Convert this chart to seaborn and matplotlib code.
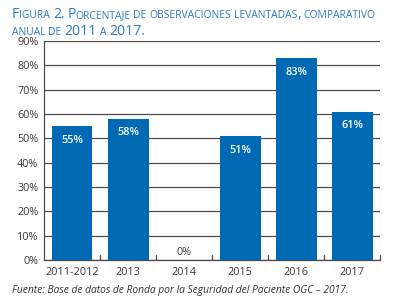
import numpy as np
import pandas as pd
import seaborn as sns
import matplotlib.pyplot as plt
from matplotlib.font_manager import FontProperties
from matplotlib.ticker import PercentFormatter

years = ["2011-2012", "2013", "2014", "2015", "2016", "2017"]
pct = [55, 58, 0, 51, 83, 61]
yticks = list(range(0, 91, 10))
title_lines = ["Figura 2. Porcentaje de observaciones levantadas, comparativo",
               "anual de 2011 a 2017."]
source = "Fuente: Base de datos de Ronda por la Seguridad del Paciente OGC – 2017."

df = pd.DataFrame({"year": years, "pct": pct})

sns.set_theme(style="white")
plt.rcParams["font.family"] = ["Open Sans", "DejaVu Sans"]

fig = plt.figure(figsize=(4.04, 3.07), dpi=100)
ax = fig.add_axes([0.109, 0.153, 0.832, 0.713])

bar_color = "#0069b4"
sns.barplot(data=df, x="year", y="pct", color=bar_color, saturation=1, width=0.73,
            linewidth=0, ax=ax, zorder=3)

ax.set_ylim(0, 90)
ax.set_xlim(-0.5, len(years) - 0.5)
ax.set_yticks(yticks)
ax.yaxis.set_major_formatter(PercentFormatter(decimals=0))
ax.grid(axis="y", color="#4a4a4a", linewidth=0.9, zorder=0)
ax.set_xlabel("")
ax.set_ylabel("")

for s in ["top", "right"]:
    ax.spines[s].set_visible(False)
for s in ["left", "bottom"]:
    ax.spines[s].set_color("#4a4a4a")
    ax.spines[s].set_linewidth(0.9)

ax.tick_params(axis="y", length=0, labelsize=7.8, labelcolor="#3a3a3a", pad=4)
ax.tick_params(axis="x", length=0, labelsize=7.8, labelcolor="#3a3a3a", pad=5)

# little ticks between categories
for b in np.arange(0.5, len(years), 1.0):
    ax.plot([b, b], [0, 2], color="#4a4a4a", linewidth=0.9, clip_on=False, zorder=4)

for i, v in enumerate(pct):
    if v > 5:
        ax.text(i, v - 3.5, f"{v}%", ha="center", va="top", color="white",
                fontsize=7.8, fontweight="semibold", zorder=5)
    else:
        ax.text(i, v + 1, f"{v}%", ha="center", va="bottom", color="#3a3a3a",
                fontsize=7.8, zorder=5)


def small_caps(x, y, s, big=10.1, small=7.5, color="#2a7bc0"):
    # fake small caps: capitals and digits big, lowercase drawn as small capitals
    renderer = fig.canvas.get_renderer()

    def advance(text, size):
        prop = FontProperties(family=["Open Sans", "DejaVu Sans"], size=size)
        w1 = renderer.get_text_width_height_descent("I" + text + "I", prop, ismath=False)[0]
        w0 = renderer.get_text_width_height_descent("II", prop, ismath=False)[0]
        return w1 - w0

    xpix = x * fig.bbox.width
    for k, word in enumerate(s.split(" ")):
        if k > 0:
            xpix += advance(" ", small)
        runs = []
        for ch in word:
            is_big = not ch.islower()
            if runs and runs[-1][1] == is_big:
                runs[-1][0] += ch
            else:
                runs.append([ch, is_big])
        for text, is_big in runs:
            size = big if is_big else small
            fig.text(xpix / fig.bbox.width, y, text.upper(), color=color,
                     fontsize=size, ha="left", va="baseline")
            xpix += advance(text.upper(), size)


small_caps(0.03, 0.940, title_lines[0])
small_caps(0.03, 0.885, title_lines[1])

fig.text(0.03, 0.055, source, color="#333333", fontsize=7.4, style="italic",
         va="center", ha="left")

fig.savefig("out.png", dpi=100)
